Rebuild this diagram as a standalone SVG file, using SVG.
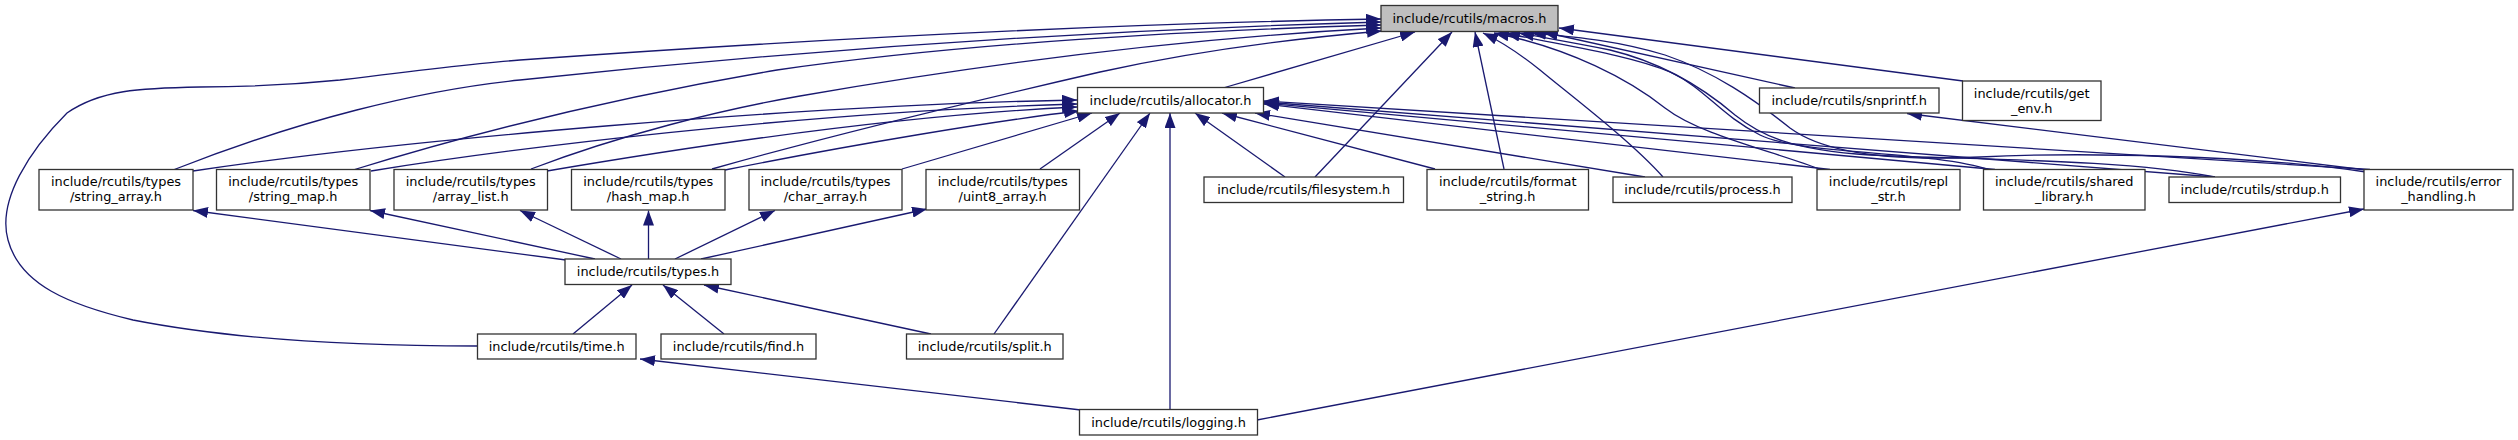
<svg xmlns="http://www.w3.org/2000/svg" width="2518" height="440" viewBox="0 0 2518 440">
<style>
.node rect{fill:#ffffff;stroke:#333333;stroke-width:1.3}
.node rect.hl{fill:#bfbfbf}
.node text{font-family:"DejaVu Sans","Liberation Sans",sans-serif;font-size:12.9px;text-anchor:middle;fill:#000000}
.edge{fill:none;stroke:#191970;stroke-width:1.3;marker-end:url(#arr)}
</style>
<defs>
<marker id="arr" markerUnits="userSpaceOnUse" markerWidth="16" markerHeight="11" refX="15" refY="5.5" orient="auto" viewBox="0 0 16 11"><path d="M0,0 L15,5.5 L0,11 z" fill="#191970"/></marker>
</defs>
<rect x="0" y="0" width="2518" height="440" fill="#ffffff"/>
<g id="edges">
<!-- into macros.h -->
<path class="edge" d="M477,346 C400,346 250,343 133,320 C70,305 20,285 8,240 C-3,200 30,150 67,113 C100,90 140,88 200,87 C260,87 300,84 340,80 C420,70 480,63 520,60 C800,40 1100,24 1381,19"/>
<path class="edge" d="M173,170 C300,120 420,90 520,80 C800,50 1100,30 1381,22"/>
<path class="edge" d="M353,170 C450,140 600,100 777,70 C950,45 1150,32 1381,25"/>
<path class="edge" d="M531,169 C620,135 720,110 800,96 C950,70 1150,40 1381,28"/>
<path class="edge" d="M712,169 C850,130 1000,95 1100,72 C1200,50 1300,38 1382,31"/>
<path class="edge" d="M1223,88 L1415,32"/>
<path class="edge" d="M1315,177 L1452,32"/>
<path class="edge" d="M1504,169 L1475,32"/>
<path class="edge" d="M1663,177 C1630,140 1570,95 1540,70 C1515,50 1498,40 1483,33"/>
<path class="edge" d="M1822,170 C1770,150 1700,135 1665,108 C1630,80 1570,48 1494,33"/>
<path class="edge" d="M1990,170 C1930,150 1800,155 1760,135 C1720,115 1705,88 1670,72 C1630,55 1560,45 1505,33"/>
<path class="edge" d="M2215,177 C2120,158 1960,160 1870,155 C1790,150 1760,135 1735,115 C1700,85 1660,62 1610,50 C1570,42 1545,38 1519,33"/>
<path class="edge" d="M2366,172 C2250,155 2080,152 1980,157 C1880,162 1820,150 1790,128 C1755,100 1715,72 1665,55 C1615,40 1575,37 1531,33"/>
<path class="edge" d="M1795,88 L1543,32"/>
<path class="edge" d="M1963,81 L1559,28"/>
<!-- into allocator.h -->
<path class="edge" d="M193,171 C400,140 800,105 1077,100"/>
<path class="edge" d="M371,171 C500,150 800,112 1077,104"/>
<path class="edge" d="M547,171 C700,145 900,115 1077,107"/>
<path class="edge" d="M725,170 C850,145 1000,120 1079,111"/>
<path class="edge" d="M902,169 L1092,113"/>
<path class="edge" d="M1040,169 L1120,113"/>
<path class="edge" d="M994,334 L1150,113"/>
<path class="edge" d="M1170,409 L1170,113"/>
<path class="edge" d="M1285,177 L1195,113"/>
<path class="edge" d="M1435,169 L1222,113"/>
<path class="edge" d="M1645,177 L1255,113"/>
<path class="edge" d="M1830,169.5 L1264,104"/>
<path class="edge" d="M1995,169.5 L1264,103"/>
<path class="edge" d="M2215,177 L1264,102"/>
<path class="edge" d="M2370,169.5 L1264,101"/>
<!-- snprintf -->
<path class="edge" d="M2366,170 L1907,113.5"/>
<!-- types.h includes -->
<path class="edge" d="M566,260 L193,210.5"/>
<path class="edge" d="M595,259 L370,210.5"/>
<path class="edge" d="M621,259 L520,210.5"/>
<path class="edge" d="M648.5,259 L648.5,210.5"/>
<path class="edge" d="M675,259 L775,210.5"/>
<path class="edge" d="M701,259 L927,209"/>
<!-- into types.h -->
<path class="edge" d="M573,334 L632,285"/>
<path class="edge" d="M724,334 L663,285"/>
<path class="edge" d="M931,334 L704,285"/>
<!-- logging -->
<path class="edge" d="M1081,410 L640,359"/>
<path class="edge" d="M1257,420 L2364,209"/>
</g>
<g id="n_macros" class="node"><rect class="hl" x="1381" y="5.5" width="177" height="26"/><text x="1469.5" y="22.5">include/rcutils/macros.h</text></g>
<g id="n_allocator" class="node"><rect x="1077.5" y="87.5" width="186" height="25.5"/><text x="1170.5" y="104.5">include/rcutils/allocator.h</text></g>
<g id="n_snprintf" class="node"><rect x="1759.5" y="88" width="179.5" height="25"/><text x="1849.2" y="105">include/rcutils/snprintf.h</text></g>
<g id="n_get_env" class="node"><rect x="1962.5" y="81" width="138.5" height="39.5"/><text x="2031.7" y="97.5">include/rcutils/get</text><text x="2031.7" y="112.5">_env.h</text></g>
<g id="n_string_array" class="node"><rect x="39" y="169.5" width="154" height="40.5"/><text x="116" y="186">include/rcutils/types</text><text x="116" y="201">/string_array.h</text></g>
<g id="n_string_map" class="node"><rect x="216.5" y="169.5" width="153.5" height="40.5"/><text x="293.2" y="186">include/rcutils/types</text><text x="293.2" y="201">/string_map.h</text></g>
<g id="n_array_list" class="node"><rect x="394" y="169.5" width="153.5" height="40.5"/><text x="470.7" y="186">include/rcutils/types</text><text x="470.7" y="201">/array_list.h</text></g>
<g id="n_hash_map" class="node"><rect x="571.5" y="169.5" width="153.5" height="40.5"/><text x="648.2" y="186">include/rcutils/types</text><text x="648.2" y="201">/hash_map.h</text></g>
<g id="n_char_array" class="node"><rect x="749" y="169.5" width="153" height="40.5"/><text x="825.5" y="186">include/rcutils/types</text><text x="825.5" y="201">/char_array.h</text></g>
<g id="n_uint8_array" class="node"><rect x="926" y="169.5" width="153.5" height="40.5"/><text x="1002.7" y="186">include/rcutils/types</text><text x="1002.7" y="201">/uint8_array.h</text></g>
<g id="n_filesystem" class="node"><rect x="1204" y="177" width="199.5" height="25.5"/><text x="1303.7" y="194">include/rcutils/filesystem.h</text></g>
<g id="n_format_string" class="node"><rect x="1427" y="169.5" width="161.5" height="40.5"/><text x="1507.7" y="186">include/rcutils/format</text><text x="1507.7" y="201">_string.h</text></g>
<g id="n_process" class="node"><rect x="1613" y="177" width="179" height="25.5"/><text x="1702.5" y="194">include/rcutils/process.h</text></g>
<g id="n_repl_str" class="node"><rect x="1817" y="169.5" width="143" height="40.5"/><text x="1888.5" y="186">include/rcutils/repl</text><text x="1888.5" y="201">_str.h</text></g>
<g id="n_shared_library" class="node"><rect x="1983.5" y="169.5" width="161.5" height="40.5"/><text x="2064.2" y="186">include/rcutils/shared</text><text x="2064.2" y="201">_library.h</text></g>
<g id="n_strdup" class="node"><rect x="2169" y="177" width="171.5" height="25.5"/><text x="2254.7" y="194">include/rcutils/strdup.h</text></g>
<g id="n_error_handling" class="node"><rect x="2364" y="169.5" width="149" height="40.5"/><text x="2438.5" y="186">include/rcutils/error</text><text x="2438.5" y="201">_handling.h</text></g>
<g id="n_types" class="node"><rect x="565" y="259" width="166" height="25.5"/><text x="648" y="276">include/rcutils/types.h</text></g>
<g id="n_time" class="node"><rect x="477.5" y="334" width="158.5" height="25"/><text x="556.7" y="351">include/rcutils/time.h</text></g>
<g id="n_find" class="node"><rect x="661" y="334" width="155" height="25"/><text x="738.5" y="351">include/rcutils/find.h</text></g>
<g id="n_split" class="node"><rect x="906.5" y="334" width="156.5" height="25"/><text x="984.7" y="351">include/rcutils/split.h</text></g>
<g id="n_logging" class="node"><rect x="1079.5" y="409.5" width="178" height="25.5"/><text x="1168.5" y="426.5">include/rcutils/logging.h</text></g>
</svg>
